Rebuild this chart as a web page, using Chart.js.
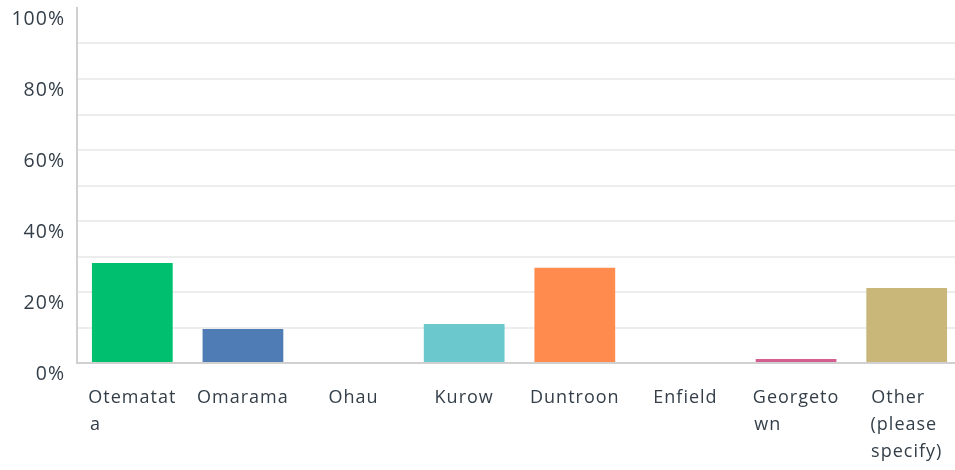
<!DOCTYPE html>
<html>
<head>
<meta charset="utf-8">
<script src="https://cdn.jsdelivr.net/npm/chart.js@4.4.1/dist/chart.umd.min.js"></script>
<style>
  html, body { margin: 0; padding: 0; background: #fff; overflow: hidden; }
  #wrap { width: 962px; height: 470px; position: relative; }
</style>
</head>
<body>
<div id="wrap"><canvas id="surveyChart"></canvas></div>
<script>
// answer options (already wrapped the way the original survey shows them)
const categories = [
    ['Otematat', 'a'],
    ['Omarama'],
    ['Ohau'],
    ['Kurow'],
    ['Duntroon'],
    ['Enfield'],
    ['Georgeto', 'wn'],
    ['Other', '(please', 'specify)']
];
const percentages = [28.2, 9.6, 0, 11.0, 26.8, 0, 1.1, 21.1];
const barColors = ['#00bf6f', '#507cb6', '#f9be00', '#6bc8cd', '#ff8b4f', '#7f7fff', '#d25f90', '#c9b77a'];
const yLabelStep = 20;

const FONT_FAMILY = '"Open Sans", "Noto Sans", sans-serif';
const FONT_SIZE = 18;
const TEXT_COLOR = '#333e48';

// pad shorter lines with spaces so each label reads left-aligned inside a centred box
const measureCtx = document.createElement('canvas').getContext('2d');
measureCtx.font = FONT_SIZE + 'px ' + FONT_FAMILY;
measureCtx.letterSpacing = '1px';
function padLines(lines) {
    const widest = Math.max(...lines.map(l => measureCtx.measureText(l).width));
    return lines.map(l => {
        let s = l;
        while (measureCtx.measureText(s + ' ').width <= widest + 2) s += ' ';
        return s;
    });
}

const spacingPlugin = {
    id: 'spacing',
    beforeLayout(chart) { chart.ctx.letterSpacing = '1px'; },
    beforeDraw(chart) { chart.ctx.letterSpacing = '1px'; }
};

const ctx = document.getElementById('surveyChart').getContext('2d');
new Chart(ctx, {
    type: 'bar',
    data: {
        labels: categories,
        datasets: [{
            data: percentages,
            backgroundColor: barColors,
            borderWidth: 0,
            barPercentage: 0.73,
            categoryPercentage: 1
        }]
    },
    options: {
        responsive: true,
        maintainAspectRatio: false,
        animation: false,
        layout: { padding: { top: 8, left: 0, right: 0, bottom: 0 } },
        plugins: { legend: { display: false }, tooltip: { enabled: false } },
        scales: {
            x: {
                grid: { display: false, drawTicks: false },
                border: { color: '#d0d0d0', width: 2 },
                ticks: {
                    autoSkip: false,
                    maxRotation: 0,
                    padding: 21,
                    color: TEXT_COLOR,
                    font: { family: FONT_FAMILY, size: FONT_SIZE, lineHeight: 1.5 },
                    callback: function (value) { return padLines(categories[value]); }
                },
                afterFit: function (scale) {
                    scale.height = 107;
                    scale.paddingLeft = 0;
                    scale.paddingRight = 0;
                }
            },
            y: {
                min: 0,
                max: 100,
                grid: {
                    drawTicks: false,
                    lineWidth: 2,
                    color: c => (c.tick && c.tick.value === 100) ? 'rgba(0,0,0,0)' : '#ededed'
                },
                border: { color: '#d0d0d0', width: 2 },
                ticks: {
                    stepSize: 10,
                    padding: 12,
                    labelOffset: 11,
                    color: TEXT_COLOR,
                    font: { family: FONT_FAMILY, size: 19.5 },
                    callback: v => (v % yLabelStep === 0 ? v + '%' : '')
                },
                afterFit: function (scale) {
                    scale.width = 77;
                    scale.paddingTop = 0;
                    scale.paddingBottom = 0;
                }
            }
        }
    },
    plugins: [spacingPlugin]
});
</script>
</body>
</html>
